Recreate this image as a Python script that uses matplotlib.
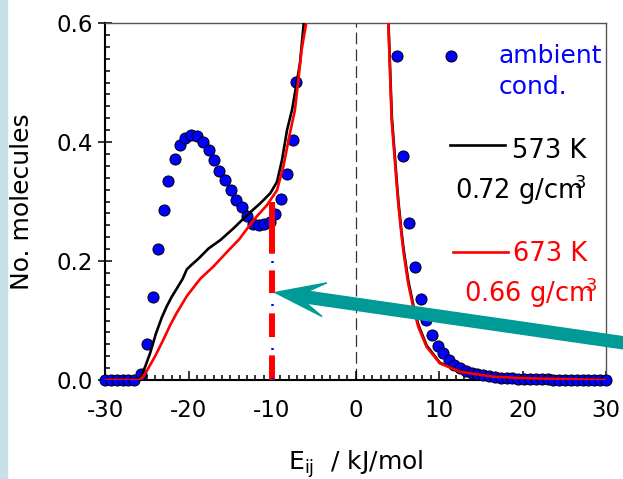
import matplotlib
matplotlib.use('Agg')
import matplotlib.pyplot as plt
from matplotlib.ticker import MultipleLocator, FixedLocator
from matplotlib.patches import FancyArrow, Rectangle
from matplotlib.transforms import IdentityTransform

plt.rcParams['font.family'] = ['DejaVu Sans']
plt.rcParams['axes.unicode_minus'] = False
plt.rcParams['lines.scale_dashes'] = False

# ---------------- data ----------------
amb_x = [-30.0, -29.3, -28.6, -27.9, -27.2, -26.5, -25.7, -25.0, -24.3, -23.6,
         -22.9, -22.4, -21.65, -21.0, -20.4, -19.7, -19.0, -18.3, -17.6, -16.9,
         -16.3, -15.6, -14.95, -14.3, -13.6, -12.95, -12.3, -11.6, -10.95, -10.2,
         -9.6, -8.96, -8.2, -7.5, -7.1,
         5.0, 5.73, 6.4, 7.13, 7.8, 8.44, 9.2, 9.84, 10.5, 11.2, 11.8, 12.5, 13.2,
         13.9, 14.6, 15.3, 16.0, 16.7, 17.4, 18.1, 18.8, 19.5, 20.2, 20.9, 21.6,
         22.3, 23.0, 23.7, 24.4, 25.1, 25.8, 26.5, 27.2, 27.9, 28.6, 29.3, 30.0]
amb_y = [0.0, 0.0, 0.0, 0.0, 0.0, 0.0, 0.010, 0.060, 0.139, 0.220,
         0.286, 0.335, 0.372, 0.395, 0.407, 0.412, 0.410, 0.400, 0.386, 0.370,
         0.352, 0.336, 0.320, 0.302, 0.290, 0.276, 0.263, 0.260, 0.262, 0.266,
         0.279, 0.305, 0.346, 0.404, 0.501,
         0.545, 0.377, 0.264, 0.190, 0.136, 0.101, 0.076, 0.057, 0.045, 0.034,
         0.025, 0.020, 0.015, 0.012, 0.010, 0.008, 0.006, 0.005, 0.004, 0.003,
         0.003, 0.002, 0.002, 0.001, 0.001, 0.001, 0.001, 0.0, 0.0, 0.0, 0.0,
         0.0, 0.0, 0.0, 0.0, 0.0, 0.0]

k573_left_x = [-30.0, -26.0, -25.7, -25.2, -24.6, -23.9, -23.2, -22.6, -22.0, -21.3,
               -20.7, -20.2, -19.6, -18.8, -17.6, -16.2, -14.6, -13.0, -11.4, -10.2,
               -9.4, -8.8, -8.2, -7.6, -6.65, -6.2]
k573_left_y = [0.0, 0.0, 0.006, 0.022, 0.045, 0.078, 0.105, 0.124, 0.140, 0.156,
               0.170, 0.186, 0.194, 0.204, 0.221, 0.235, 0.255, 0.277, 0.297, 0.314,
               0.333, 0.370, 0.420, 0.454, 0.532, 0.600]
k573_right_x = [3.95, 4.35, 4.92, 5.15, 5.52, 5.77, 6.32, 6.92, 7.52, 8.52, 10.1,
                12.5, 16.5, 20.5, 25.0, 30.0]
k573_right_y = [0.600, 0.442, 0.338, 0.298, 0.248, 0.219, 0.167, 0.126, 0.093, 0.058,
                0.029, 0.015, 0.006, 0.003, 0.0015, 0.0]

k673_left_x = [-30.0, -25.9, -25.4, -24.6, -24.0, -23.0, -22.2, -21.4, -20.2, -18.6,
               -17.0, -15.4, -13.9, -12.2, -10.6, -9.4, -8.65, -7.85, -7.25, -6.45,
               -5.9]
k673_left_y = [0.0, 0.0, 0.006, 0.025, 0.040, 0.068, 0.092, 0.113, 0.141, 0.170,
               0.191, 0.215, 0.237, 0.269, 0.294, 0.319, 0.358, 0.415, 0.454, 0.555,
               0.600]
k673_right_x = [3.93, 4.33, 4.9, 5.13, 5.5, 5.75, 6.3, 6.9, 7.5, 8.5, 10.1,
                12.5, 16.5, 20.5, 25.0, 30.0]
k673_right_y = [0.600, 0.437, 0.335, 0.295, 0.245, 0.215, 0.163, 0.123, 0.090, 0.056,
                0.028, 0.014, 0.0056, 0.003, 0.0015, 0.0]

marker_x = -10.0
marker_top = 0.30
arrow_tip = (-9.64, 0.147)
arrow_tail = (35.3, 0.0560)

x_ticks = [-30, -20, -10, 0, 10, 20, 30]
y_ticks = [0.0, 0.2, 0.4, 0.6]
y_ticklabels = ['0.0', '0.2', '0.4', '0.6']

legend_amb = ['ambient', 'cond.']
legend_573 = ['573 K', r'0.72 g/cm$^{\!\!\!\mathregular{3}}$']
legend_673 = ['673 K', r'0.66 g/cm$^{\!\!\!\mathregular{3}}$']

# ---------------- figure ----------------
fig = plt.figure(figsize=(6.23, 4.79), dpi=100)
fig.patches.append(Rectangle((0, 0), 7 / 623, 1, transform=fig.transFigure,
                             color='#c6dfe9', zorder=-1))
ax = fig.add_axes([105 / 623, 99 / 479, 501 / 623, 357 / 479])
ax.set_xlim(-30, 30)
ax.set_ylim(0, 0.6)

# zero line
ax.axvline(0, color='#333333', lw=0.9, linestyle=(0, (8.5, 3.6)), zorder=1)

# ambient points
ax.plot(amb_x, amb_y, 'o', color='#0000ff', mec='black', mew=0.7, ms=8,
        clip_on=False, zorder=3)

# simulation lines
ax.plot(k573_left_x, k573_left_y, color='black', lw=1.9, zorder=4)
ax.plot(k573_right_x, k573_right_y, color='black', lw=1.9, zorder=4)
ax.plot(k673_left_x, k673_left_y, color='#ff0000', lw=1.9, zorder=5)
ax.plot(k673_right_x, k673_right_y, color='#ff0000', lw=1.9, zorder=5)

# red dash-dot marker line
red_seq = [v * 0.72 for v in (51.7, 16.7, 22.7, 20.3, 23.7, 18.3, 40.0, 10.0)]
ax.plot([marker_x, marker_x], [marker_top, 0], color='#ff0000', lw=4.3,
        linestyle=(0, red_seq), solid_capstyle='butt', dash_capstyle='butt', zorder=6)
blue_seq = [v * 0.72 for v in (2, 41, 2, 42, 2, 27.7, 2, 100)]
ax.plot([marker_x, marker_x], [marker_top, 0], color='#0000ff', lw=1.8,
        linestyle=(160.2 * 0.72, blue_seq), dash_capstyle='butt', zorder=6)

# axes styling
for s in ['left', 'bottom']:
    ax.spines[s].set_linewidth(1.5)
    ax.spines[s].set_color('black')
for s in ['top', 'right']:
    ax.spines[s].set_linewidth(1.0)
    ax.spines[s].set_color('#555555')

ax.xaxis.set_major_locator(FixedLocator(x_ticks))
ax.xaxis.set_minor_locator(MultipleLocator(1))
ax.yaxis.set_major_locator(FixedLocator(y_ticks))
ax.yaxis.set_minor_locator(MultipleLocator(0.02))
ax.set_yticklabels(y_ticklabels)
ax.set_xticklabels([str(v) for v in x_ticks])

ax.tick_params(axis='x', which='major', direction='in', length=6.5, width=1.1,
               pad=14, labelsize=16.5)
ax.tick_params(axis='x', which='minor', direction='in', length=3.6, width=1.1)
ax.tick_params(axis='y', which='major', direction='inout', length=10, width=1.1,
               pad=4, labelsize=16.5)
ax.tick_params(axis='y', which='minor', direction='in', length=3.6, width=1.1)

ax.set_ylabel('No. molecules', fontsize=18)
ax.yaxis.set_label_coords(-0.1417, 0.5)
ax.set_xlabel(r'$\mathregular{E_{ij}}$  / kJ/mol', fontsize=18, va='top')
ax.xaxis.set_label_coords(0.5, -0.192)

# legend (hand placed)
T = ax.transAxes
LFS = 18.5
ax.plot([0.690], [0.908], 'o', color='#0000ff', mec='black', mew=0.7, ms=8,
        transform=T, clip_on=False)
ax.text(0.785, 0.887, legend_amb[0], color='#0000ff', fontsize=18, transform=T,
        va='baseline', ha='left')
ax.text(0.785, 0.800, legend_amb[1], color='#0000ff', fontsize=18, transform=T,
        va='baseline', ha='left')

ax.plot([0.6886, 0.7984], [0.658, 0.658], color='black', lw=1.9, transform=T,
        clip_on=False)
ax.text(0.8118, 0.6227, legend_573[0], color='black', fontsize=LFS, transform=T,
        va='baseline', ha='left')
ax.text(0.6986, 0.507, legend_573[1], color='black', fontsize=LFS, transform=T,
        va='baseline', ha='left')

ax.plot([0.6952, 0.805], [0.3577, 0.3577], color='#ff0000', lw=1.9, transform=T,
        clip_on=False)
ax.text(0.815, 0.3333, legend_673[0], color='#ff0000', fontsize=LFS, transform=T,
        va='baseline', ha='left')
ax.text(0.7166, 0.2193, legend_673[1], color='#ff0000', fontsize=LFS, transform=T,
        va='baseline', ha='left')

# teal arrow (display pixel coordinates)
tip = ax.transData.transform(arrow_tip)
tail = ax.transData.transform(arrow_tail)
arr = FancyArrow(tail[0], tail[1], tip[0] - tail[0], tip[1] - tail[1],
                 width=12, head_width=34, head_length=50, overhang=0.35,
                 length_includes_head=True, color='#009b96',
                 transform=IdentityTransform(), zorder=10)
fig.patches.append(arr)

fig.savefig('out.png', dpi=100)
